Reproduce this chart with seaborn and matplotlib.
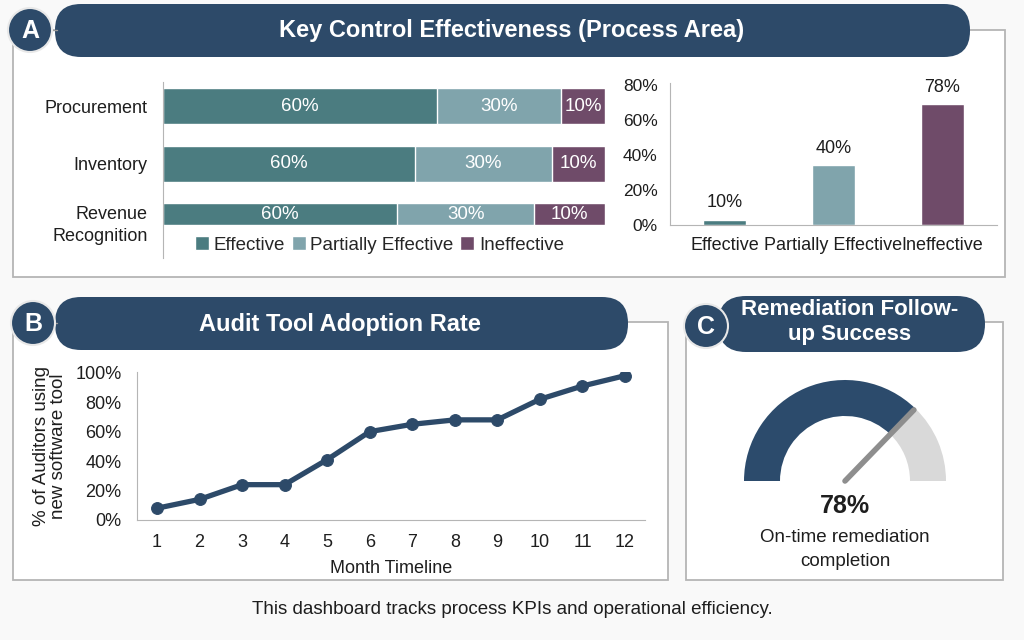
import numpy as np
import pandas as pd
import seaborn as sns
import matplotlib.pyplot as plt
from matplotlib.patches import FancyBboxPatch, Circle, Wedge, Patch, Rectangle

sns.set_style('white')
plt.rcParams['font.family'] = ['Liberation Sans', 'DejaVu Sans']

# ---------------- data ----------------
process_areas = ['Procurement', 'Inventory', 'Revenue\nRecognition']
effective = [62, 57, 53]
partially = [28, 31, 31]
ineffective = [10, 12, 16]
segment_labels = ['60%', '30%', '10%']

rating_names = ['Effective', 'Partially Effective', 'Ineffective']
rating_share = [3, 34, 69]
rating_labels = ['10%', '40%', '78%']

months = list(range(1, 13))
adoption = [8, 14, 24, 24, 41, 60, 65, 68, 68, 82, 91, 98]

gauge_fill = 74.5
gauge_label = '78%'

NAVY = '#2d4a69'
C_EFF = '#4b7c80'
C_PART = '#80a4ac'
C_INEF = '#6f4b69'
BOX = '#b5b5b5'
TXT = '#1e1e1e'

fig = plt.figure(figsize=(10.24, 6.4), dpi=100)
fig.patch.set_facecolor('#f9f9f9')


def px(x0, y0, x1, y1):
    return [x0 / 1024, 1 - y1 / 640, (x1 - x0) / 1024, (y1 - y0) / 640]


# background layer in pixel coordinates
bg = fig.add_axes([0, 0, 1, 1])
bg.set_xlim(0, 1024)
bg.set_ylim(640, 0)
bg.axis('off')

for (x, y, w, h) in [(13, 30, 992, 247), (13, 322, 655, 258), (686, 322, 317, 258)]:
    bg.add_patch(Rectangle((x, y), w, h, facecolor='white', edgecolor=BOX, lw=1.3))


def header(cx, cy, letter, x0, x1, y0, y1, title, tx, ty, fs):
    bg.add_patch(FancyBboxPatch((x0, y0), x1 - x0, y1 - y0,
                                boxstyle='round,pad=0,rounding_size=%d' % ((y1 - y0) / 2),
                                facecolor=NAVY, edgecolor='none'))
    bg.plot([cx + 20, x0 + 2], [cy, cy], color='#9a9a9a', lw=1)
    bg.add_patch(Circle((cx, cy), 22, facecolor=NAVY, edgecolor='#e8e8e8', lw=1.5, zorder=3))
    bg.text(cx, cy + 1, letter, color='white', fontsize=18, fontweight='bold',
            ha='center', va='center', zorder=4)
    bg.text(tx, ty, title, color='white', fontsize=fs, fontweight='bold',
            ha='center', va='center', linespacing=1.3)


header(30, 30, 'A', 55, 970, 4, 57, 'Key Control Effectiveness (Process Area)', 512, 31, 17)
header(33, 323, 'B', 55, 628, 297, 350, 'Audit Tool Adoption Rate', 340, 325, 17)
header(706, 326, 'C', 718, 985, 296, 352, 'Remediation Follow-\nup Success', 850, 322, 16)

# ---------------- A: stacked bars ----------------
df = pd.DataFrame({'area': process_areas, 'eff': effective,
                   'part': partially, 'inef': ineffective})
df['c2'] = df['eff'] + df['part']
df['c3'] = df['c2'] + df['inef']

axA = fig.add_axes(px(163, 82, 605, 258))
axA.patch.set_alpha(0)
sns.barplot(data=df, x='c3', y='area', color=C_INEF, width=0.63, saturation=1, ax=axA)
sns.barplot(data=df, x='c2', y='area', color=C_PART, width=0.63, saturation=1, ax=axA)
sns.barplot(data=df, x='eff', y='area', color=C_EFF, width=0.63, saturation=1, ax=axA)
axA.set_xlim(0, 100)
axA.set_ylim(2.64, -0.42)
axA.set_xlabel('')
axA.set_ylabel('')
axA.set_xticks([])
axA.tick_params(axis='y', length=0, labelsize=13, labelcolor=TXT, pad=11)
for t in axA.get_yticklabels():
    t.set_linespacing(1.4)
for s in ['top', 'right', 'bottom']:
    axA.spines[s].set_visible(False)
axA.spines['left'].set_color(BOX)

# the last row is partly hidden under the legend in the reference: show its upper part
for p in axA.patches:
    if abs(p.get_y() + p.get_height() / 2 - 2) < 0.01:
        p.set_height(0.385)

label_y = [0, 1, 1.877]
for i, row in df.iterrows():
    mids = [row['eff'] / 2, row['eff'] + row['part'] / 2, row['c2'] + row['inef'] / 2]
    for m, lab in zip(mids, segment_labels):
        axA.text(m, label_y[i], lab, color='white', fontsize=13.5, ha='center', va='center')

handles = [Patch(facecolor=c) for c in [C_EFF, C_PART, C_INEF]]
axA.legend(handles, rating_names, loc='center left',
           bbox_to_anchor=(178 / 1024, 1 - 245 / 640),
           bbox_transform=fig.transFigure, ncol=3, frameon=False,
           fontsize=13.5, handlelength=0.75, handleheight=0.75, handletextpad=0.25,
           columnspacing=0.35)

# ---------------- A: rating bars ----------------
axR = fig.add_axes(px(670, 83, 997, 225))
axR.patch.set_alpha(0)
sns.barplot(x=rating_names, y=rating_share, hue=rating_names, legend=False,
            palette=[C_EFF, C_PART, C_INEF], width=0.39, saturation=1, ax=axR)
axR.set_ylim(0, 81)
axR.set_yticks([0, 20, 40, 60, 80])
axR.set_yticklabels(['%d%%' % v for v in [0, 20, 40, 60, 80]])
axR.tick_params(length=0, labelsize=12.5, labelcolor=TXT)
axR.tick_params(axis='y', pad=9)
axR.tick_params(axis='x', pad=9, labelsize=13)
for s in ['top', 'right']:
    axR.spines[s].set_visible(False)
for s in ['left', 'bottom']:
    axR.spines[s].set_color(BOX)
for i, (v, lab) in enumerate(zip(rating_share, rating_labels)):
    axR.annotate(lab, (i, v), xytext=(0, 6), textcoords='offset points',
                 ha='center', va='bottom', fontsize=13, color=TXT)

# ---------------- B: adoption line ----------------
axB = fig.add_axes(px(137, 372, 645, 520))
axB.patch.set_alpha(0)
sns.lineplot(x=months, y=adoption, marker='o', markersize=8.5, lw=3.8, color=NAVY,
             markeredgecolor=NAVY, ax=axB)
axB.set_xlim(0.53, 12.47)
axB.set_ylim(0, 100.5)
axB.set_xticks(months)
axB.set_yticks([0, 20, 40, 60, 80, 100])
axB.set_yticklabels(['%d%%' % v for v in [0, 20, 40, 60, 80, 100]])
axB.tick_params(length=0, labelsize=13, labelcolor=TXT)
axB.tick_params(axis='y', pad=11)
axB.tick_params(axis='x', pad=10)
for s in ['top', 'right']:
    axB.spines[s].set_visible(False)
for s in ['left', 'bottom']:
    axB.spines[s].set_color(BOX)
axB.set_ylabel('% of Auditors using\nnew software tool', fontsize=13.5, color=TXT, linespacing=1.0)
axB.yaxis.set_label_coords(-0.138, 0.5)
axB.set_xlabel('Month Timeline', fontsize=13, color=TXT)
axB.xaxis.set_label_coords(0.5, -0.27)

# ---------------- C: gauge ----------------
axG = fig.add_axes(px(735, 370, 955, 490))
axG.set_xlim(-110, 110)
axG.set_ylim(-9, 111)
axG.set_aspect('equal')
axG.axis('off')
split = 180 * (1 - gauge_fill / 100)
axG.add_patch(Wedge((0, 0), 101, 0, split, width=36, facecolor='#d9d9d9', edgecolor='none'))
axG.add_patch(Wedge((0, 0), 101, split, 180, width=36, facecolor='#2c4b6c', edgecolor='none'))
ang = np.deg2rad(split)
axG.plot([0, 99 * np.cos(ang)], [0, 99 * np.sin(ang)], color='#8e8e8e', lw=4,
         solid_capstyle='round')

bg.text(845, 506, gauge_label, fontsize=18, fontweight='bold', color=TXT, ha='center', va='center')
bg.text(845, 537, 'On-time remediation', fontsize=13.5, color=TXT, ha='center', va='center')
bg.text(845, 561, 'completion', fontsize=13.5, color=TXT, ha='center', va='center')

bg.text(512, 609, 'This dashboard tracks process KPIs and operational efficiency.',
        fontsize=13.5, color=TXT, ha='center', va='center')

fig.savefig('out.png', dpi=100, facecolor=fig.get_facecolor())
